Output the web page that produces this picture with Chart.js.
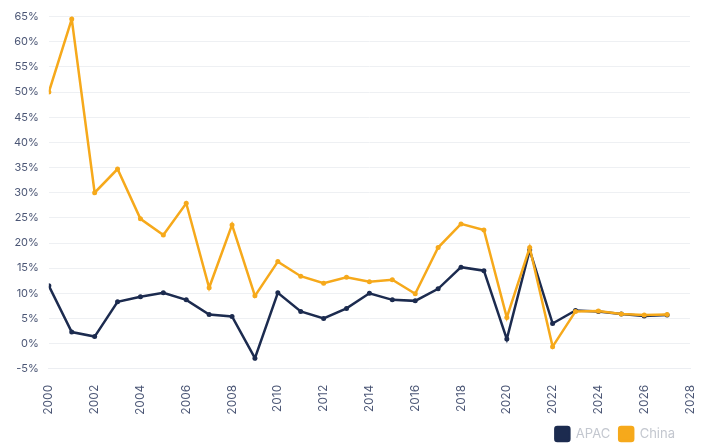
<!DOCTYPE html>
<html>
<head>
<meta charset="utf-8">
<script src="https://cdn.jsdelivr.net/npm/chart.js@4.4.0/dist/chart.umd.min.js"></script>
<style>
  html, body { margin: 0; padding: 0; background: #fff; }
  #wrap { width: 704px; height: 443px; position: relative; }
</style>
</head>
<body>
<div id="wrap"><canvas id="growthChart"></canvas></div>
<script>
// Jahre und Werte (Prozent)
const years = [2000, 2001, 2002, 2003, 2004, 2005, 2006, 2007, 2008, 2009,
               2010, 2011, 2012, 2013, 2014, 2015, 2016, 2017, 2018, 2019,
               2020, 2021, 2022, 2023, 2024, 2025, 2026, 2027];
const apac = [11.5, 2.3, 1.4, 8.3, 9.3, 10.1, 8.7, 5.8, 5.4, -2.9,
              10.1, 6.4, 5.0, 7.0, 10.0, 8.7, 8.5, 10.9, 15.2, 14.5,
              0.9, 18.6, 4.0, 6.6, 6.4, 5.9, 5.5, 5.7];
const china = [50.0, 64.5, 30.0, 34.7, 24.8, 21.6, 27.9, 11.1, 23.6, 9.5,
               16.3, 13.4, 12.0, 13.2, 12.3, 12.7, 9.9, 19.1, 23.8, 22.6,
               5.2, 19.1, -0.6, 6.4, 6.5, 5.9, 5.7, 5.8];
const yTicks = { min: -5, max: 65, step: 5 };
const xTicks = { min: 2000, max: 2028, step: 2 };

const navy = '#1c2b4f';
const orange = '#f6a91b';
const tickColor = '#4b5675';

const toPoints = (vals) => vals.map((v, i) => ({ x: years[i], y: v }));

// Legende etwas vom rechten Rand abruecken
const legendShift = {
    id: 'legendShift',
    afterLayout(chart) {
        if (chart.legend) {
            chart.legend.right -= 20;
            chart.legend.top -= 5;
            chart.legend.bottom -= 5;
        }
    }
};

new Chart(document.getElementById('growthChart').getContext('2d'), {
    type: 'line',
    data: {
        datasets: [{
            label: 'APAC',
            data: toPoints(apac),
            borderColor: navy,
            backgroundColor: navy,
            borderWidth: 2.5,
            pointRadius: 2.5,
            pointBorderWidth: 0,
            tension: 0,
            order: 2
        }, {
            label: 'China',
            data: toPoints(china),
            borderColor: orange,
            backgroundColor: orange,
            borderWidth: 2.5,
            pointRadius: 2.5,
            pointBorderWidth: 0,
            tension: 0,
            order: 1
        }]
    },
    options: {
        responsive: true,
        maintainAspectRatio: false,
        animation: false,
        layout: { padding: { left: 4, right: 0, top: 7, bottom: -13 } },
        scales: {
            x: {
                type: 'linear',
                min: xTicks.min,
                max: xTicks.max,
                grid: { display: false },
                border: { display: true, color: '#eceef2' },
                // Platz rechts fuer das gedrehte letzte Label verkleinern
                afterFit: (scale) => { scale.paddingRight = 14; },
                ticks: {
                    stepSize: xTicks.step,
                    minRotation: 90,
                    maxRotation: 90,
                    color: tickColor,
                    font: { family: 'Inter', size: 12 },
                    padding: 8,
                    callback: (v) => String(v)
                }
            },
            y: {
                min: yTicks.min,
                max: yTicks.max,
                grid: { color: '#eef0f3', drawTicks: false },
                border: { display: false },
                ticks: {
                    stepSize: yTicks.step,
                    color: tickColor,
                    font: { family: 'Inter', size: 11 },
                    padding: 10,
                    callback: (v) => v + '%'
                }
            }
        },
        plugins: {
            legend: {
                position: 'bottom',
                align: 'end',
                labels: {
                    boxWidth: 14,
                    boxHeight: 14,
                    useBorderRadius: true,
                    borderRadius: 2,
                    color: '#c3c7cf',
                    font: { family: 'Inter', size: 13 },
                    padding: 9,
                    sort: (a, b) => a.datasetIndex - b.datasetIndex
                }
            },
            tooltip: { enabled: false }
        }
    },
    plugins: [legendShift]
});
</script>
</body>
</html>
